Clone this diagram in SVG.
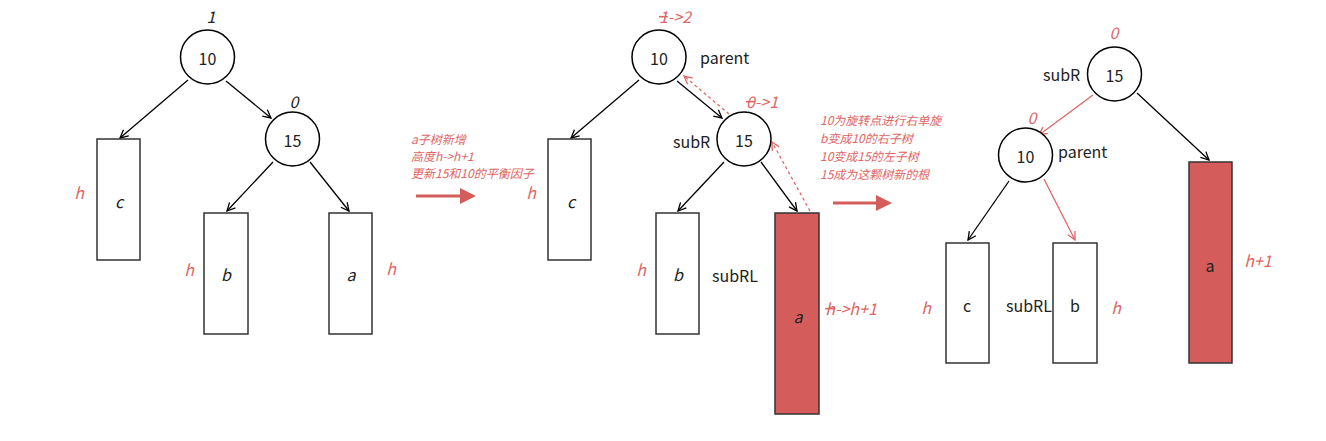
<svg xmlns="http://www.w3.org/2000/svg" width="1326" height="441" viewBox="0 0 1326 441">
<style>
.bg{fill:#fff}
.node{fill:#fff;stroke:#000;stroke-width:1.5}
.box{fill:#fff;stroke:#333;stroke-width:1.5}
.boxr{fill:#d45c5a;stroke:#333;stroke-width:1.5}
.t{font-family:"Noto Sans CJK SC","Noto Sans",sans-serif;font-size:16px;fill:#222;text-anchor:middle;dominant-baseline:central}
.ti{font-family:"Noto Sans CJK SC","Noto Sans",sans-serif;font-size:16px;font-style:italic;fill:#222;text-anchor:middle;dominant-baseline:central}
.lbl{font-family:"Noto Sans CJK SC","Noto Sans",sans-serif;font-size:16px;fill:#222;dominant-baseline:central}
.r{font-family:"Noto Sans CJK SC","Noto Sans",sans-serif;font-size:16px;font-style:italic;fill:#e06666;text-anchor:middle;dominant-baseline:central}
.note{font-family:"Noto Sans CJK SC","Noto Sans",sans-serif;font-size:12px;font-style:italic;fill:#e06666}
.e{stroke:#000;stroke-width:1.3;fill:none;marker-end:url(#ab)}
.er{stroke:#e06666;stroke-width:1.3;fill:none;marker-end:url(#ar)}
.ed{stroke:#e06666;stroke-width:1.3;fill:none;stroke-dasharray:3 3;marker-end:url(#ar)}
.big{stroke:#d45c5a;stroke-width:3;fill:none;marker-end:url(#big)}
.strike{text-decoration:line-through}
</style>
<defs>
<marker id="ab" viewBox="0 0 10 10" refX="9" refY="5" markerWidth="10" markerHeight="10" markerUnits="userSpaceOnUse" orient="auto"><path d="M1,1 L9,5 L1,9" fill="none" stroke="#000" stroke-width="1.3"/></marker>
<marker id="ar" viewBox="0 0 10 10" refX="9" refY="5" markerWidth="10" markerHeight="10" markerUnits="userSpaceOnUse" orient="auto"><path d="M1,1 L9,5 L1,9" fill="none" stroke="#e06666" stroke-width="1.3"/></marker>
<marker id="big" viewBox="0 0 16 16" refX="2" refY="8" markerWidth="16" markerHeight="16" markerUnits="userSpaceOnUse" orient="auto"><path d="M0,0 L16,8 L0,16 Z" fill="#d45c5a"/></marker>
</defs>
<rect class="bg" x="0" y="0" width="1326" height="441"/>

<g id="connectors">
<line class="e" x1="188" y1="80" x2="120" y2="138"/>
<line class="e" x1="226" y1="81" x2="271" y2="118"/>
<line class="e" x1="273" y1="162" x2="227" y2="211"/>
<line class="e" x1="310" y1="162" x2="349" y2="211"/>
<line class="big" x1="416" y1="196" x2="462" y2="196"/>

<line class="e" x1="639" y1="80" x2="571" y2="138"/>
<line class="e" x1="677" y1="81" x2="722" y2="118"/>
<line class="e" x1="724" y1="162" x2="678" y2="211"/>
<line class="e" x1="761" y1="162" x2="797" y2="211"/>
<line class="ed" x1="729" y1="114" x2="684" y2="76"/>
<line class="ed" x1="810" y1="211" x2="772" y2="142"/>
<line class="big" x1="833" y1="203" x2="878" y2="203"/>

<line class="er" x1="1093" y1="95" x2="1039" y2="135"/>
<line class="e" x1="1137" y1="93" x2="1209" y2="160"/>
<line class="e" x1="1009" y1="181" x2="968" y2="240"/>
<line class="er" x1="1044" y1="179" x2="1075" y2="240"/>
</g>

<g id="d1-n10"><circle class="node" cx="207.5" cy="57" r="27"/><text class="t" x="207.5" y="58">10</text><text class="ti" x="211" y="16">1</text></g>
<g id="d1-n15"><circle class="node" cx="292.5" cy="139" r="27"/><text class="t" x="292.5" y="140">15</text><text class="ti" x="294" y="101">0</text></g>
<g id="d1-c"><rect class="box" x="97" y="139" width="43" height="121"/><text class="ti" x="119" y="201">c</text><text class="r" x="79" y="192">h</text></g>
<g id="d1-b"><rect class="box" x="204" y="213" width="44" height="121"/><text class="ti" x="226" y="274">b</text><text class="r" x="189" y="269">h</text></g>
<g id="d1-a"><rect class="box" x="329" y="213" width="43" height="121"/><text class="ti" x="351" y="274">a</text><text class="r" x="391" y="268">h</text></g>

<g id="note1">
<text class="note" x="411" y="144">a子树新增</text>
<text class="note" x="411" y="161">高度h-&gt;h+1</text>
<text class="note" x="411" y="178">更新15和10的平衡因子</text>
</g>

<g id="d2-n10"><circle class="node" cx="659" cy="57" r="27"/><text class="t" x="659" y="58">10</text><text class="r" x="675" y="16"><tspan class="strike">1</tspan>-&gt;2</text><text class="lbl" x="700" y="57">parent</text></g>
<g id="d2-n15"><circle class="node" cx="744" cy="139" r="27"/><text class="t" x="744" y="140">15</text><text class="r" x="762" y="101"><tspan class="strike">0</tspan>-&gt;1</text><text class="lbl" x="673" y="141">subR</text></g>
<g id="d2-c"><rect class="box" x="548" y="139" width="43" height="121"/><text class="ti" x="571" y="201">c</text><text class="r" x="531" y="192">h</text></g>
<g id="d2-b"><rect class="box" x="656" y="213" width="43" height="121"/><text class="ti" x="678" y="274">b</text><text class="r" x="641" y="269">h</text><text class="lbl" x="712" y="275">subRL</text></g>
<g id="d2-a"><rect class="boxr" x="775" y="213" width="44" height="201"/><text class="ti" x="798" y="316">a</text><text class="r" x="851" y="308"><tspan class="strike">h</tspan>-&gt;h+1</text></g>

<g id="note2">
<text class="note" x="820" y="125">10为旋转点进行右单旋</text>
<text class="note" x="820" y="143">b变成10的右子树</text>
<text class="note" x="820" y="161">10变成15的左子树</text>
<text class="note" x="820" y="179">15成为这颗树新的根</text>
</g>

<g id="d3-n15"><circle class="node" cx="1114.5" cy="74" r="27"/><text class="t" x="1114.5" y="75">15</text><text class="r" x="1114" y="32">0</text><text class="lbl" x="1043" y="74">subR</text></g>
<g id="d3-n10"><circle class="node" cx="1025.5" cy="155" r="27"/><text class="t" x="1025.5" y="156">10</text><text class="r" x="1032" y="117">0</text><text class="lbl" x="1058" y="151">parent</text></g>
<g id="d3-c"><rect class="box" x="946" y="243" width="43" height="120"/><text class="t" x="967" y="305">c</text><text class="r" x="926" y="307">h</text></g>
<g id="d3-b"><rect class="box" x="1053" y="243" width="44" height="120"/><text class="t" x="1075" y="305">b</text><text class="r" x="1116" y="307">h</text><text class="lbl" x="1006" y="305">subRL</text></g>
<g id="d3-a"><rect class="boxr" x="1189" y="162" width="43" height="201"/><text class="t" x="1210" y="265">a</text><text class="r" x="1258" y="260">h+1</text></g>
</svg>
